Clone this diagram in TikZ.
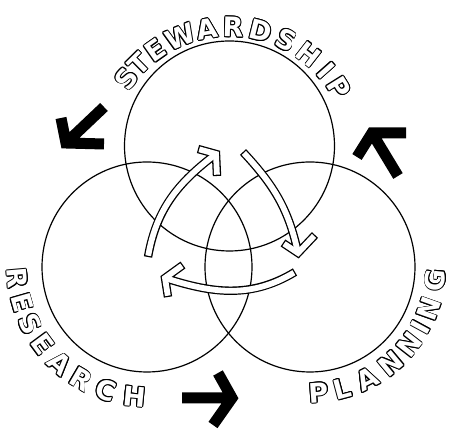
\documentclass[tikz,border=0pt]{standalone}
\usepackage{fontspec}
\newfontfamily\lblfont{DejaVu Sans}
\usetikzlibrary{calc}

% curved hollow arrow: tail, out, in, tip, arm1, arm2
\newcommand{\cyclearrow}[6]{%
  \draw[rimline] (#1) to[out=#2, in=#3] (#4) (#5) -- (#4) -- (#6);
  \draw[rimfill, shorten <=1.3pt] (#1) to[out=#2, in=#3] (#4);
  \draw[rimfill, shorten <=1.3pt, shorten >=1.3pt] (#5) -- (#4) -- (#6);
}

\begin{document}
\begin{tikzpicture}[
    x=1pt, y=1pt,
    ring/.style={draw, circle, line width=1.2pt, minimum size=210pt, inner sep=0pt},
    letter/.style={inner sep=0pt, font=\lblfont\bfseries\fontsize{27}{27}\selectfont},
    rim/.style={letter, text=black},
    bigarr/.style={line width=11pt, line join=miter},
    rimline/.style={black, line width=8.4pt, line join=miter},
    rimfill/.style={white, line width=5.8pt, line join=miter}
]
\useasboundingbox (0,0) rectangle (451,433);

% the three rings
\node[ring] (stew) at (229.5,287) {};
\node[ring] (res) at (147,166) {};
\node[ring] (plan) at (310,166) {};
\coordinate (stewtxt) at ($(stew.center)+(0,-10)$);

% inner cycle
\cyclearrow{148,176}{80}{217}{216,279}{198,284}{217,257}
\cyclearrow{243,281}{-47}{102}{298,180}{283,190}{315,198}
\cyclearrow{295,161}{211}{342}{165,155}{183,168}{168,136}

% outer black arrows
\draw[bigarr] (104,326) -- (66,290) (61,315) -- (66,290) -- (104,289);
\draw[bigarr] (398,257) -- (372,300) (406,300) -- (372,300) -- (357,276);
\draw[bigarr] (182,35) -- (232,35) (218,60) -- (232,35) -- (213,8);

% labels round the rings (white letters with a black rim)
\foreach \ch/\a [count=\i] in {S/143,T/134.5,E/125,W/112.5,A/100,R/88.4,D/76,S/64,H/52,I/41.5,P/32} {
  \foreach \o in {0,30,...,330}
    \node[rim, rotate=\a-90] at ($(stewtxt)+(\a:129)+(\o:0.9)$) {\ch};
  \node[letter, text=white, rotate=\a-90] (st\i) at ($(stewtxt)+(\a:129)$) {\ch};
}
\foreach \ch/\a [count=\i] in {R/185,E/196,S/206,E/216.5,A/228,R/239.5,C/251.5,H/264.5} {
  \foreach \o in {0,30,...,330}
    \node[rim, rotate=\a+90] at ($(res.center)+(\a:130)+(\o:0.9)$) {\ch};
  \node[letter, text=white, rotate=\a+90] (re\i) at ($(res.center)+(\a:130)$) {\ch};
}
\foreach \ch/\a [count=\i] in {P/-86,L/-75,A/-63,N/-50,N/-38,I/-28.5,N/-19.5,G/-6} {
  \foreach \o in {0,30,...,330}
    \node[rim, rotate=\a+90] at ($(plan.center)+(\a:126)+(\o:0.9)$) {\ch};
  \node[letter, text=white, rotate=\a+90] (pl\i) at ($(plan.center)+(\a:126)$) {\ch};
}
\end{tikzpicture}
\end{document}
